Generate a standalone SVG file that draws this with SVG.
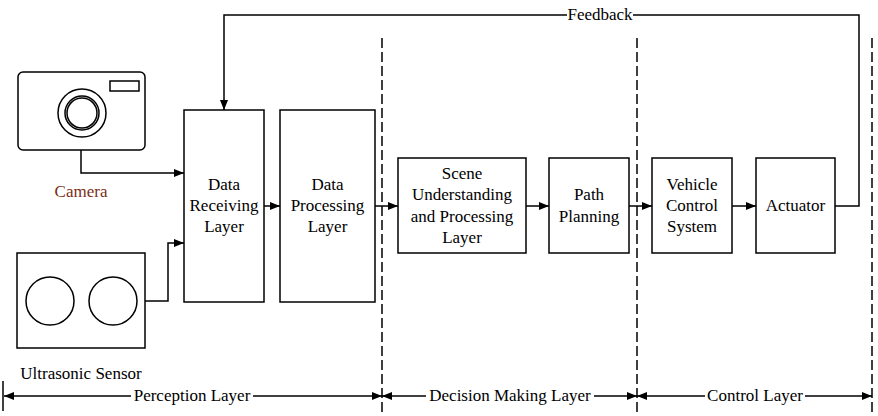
<svg xmlns="http://www.w3.org/2000/svg" width="878" height="416" viewBox="0 0 878 416" font-family="Liberation Serif, Times New Roman, serif">
<style>
.b{fill:#fff;stroke:#000;stroke-width:1.5}
.n{fill:none;stroke:#000;stroke-width:1.5}
.c{fill:none;stroke:#000;stroke-width:1.5}
.d{fill:none;stroke:#000;stroke-width:1.5;stroke-dasharray:10,4}
text{font-size:17px;fill:#000;text-anchor:middle}
</style>
<defs>
<marker id="a" markerWidth="10" markerHeight="8" refX="10" refY="4" orient="auto" markerUnits="userSpaceOnUse">
<path d="M0,0 L10,4 L0,8 Z" fill="#000"/>
</marker>
<marker id="s" markerWidth="10" markerHeight="8" refX="0" refY="4" orient="auto" markerUnits="userSpaceOnUse">
<path d="M10,0 L0,4 L10,8 Z" fill="#000"/>
</marker>
</defs>
<rect width="878" height="416" fill="#fff"/>
<g id="dividers">
<line class="d" x1="382" y1="38" x2="382" y2="414"/>
<line class="d" x1="637" y1="38" x2="637" y2="414"/>
<line class="d" x1="872" y1="38" x2="872" y2="414"/>
<line class="n" x1="3" y1="381" x2="3" y2="411"/>
</g>
<g id="camera">
<rect class="n" x="18" y="72" width="127" height="78" rx="5"/>
<rect class="n" x="110" y="81" width="29" height="10"/>
<circle class="n" cx="82" cy="113" r="24"/>
<circle class="n" cx="82" cy="113" r="17"/>
<circle class="n" cx="82" cy="113" r="15"/>
<text x="81" y="197" style="fill:#7b2e16">Camera</text>
</g>
<g id="ultrasonic">
<rect class="n" x="17" y="253" width="128" height="95"/>
<circle class="n" cx="50" cy="301" r="24"/>
<circle class="n" cx="113" cy="301" r="24"/>
<text x="81" y="379">Ultrasonic Sensor</text>
</g>
<g id="data-receiving">
<rect class="b" x="184" y="110" width="80" height="192"/>
<text x="224" y="190">Data</text>
<text x="224" y="211">Receiving</text>
<text x="224" y="232">Layer</text>
</g>
<g id="data-processing">
<rect class="b" x="280" y="110" width="95" height="192"/>
<text x="327.5" y="190">Data</text>
<text x="327.5" y="211">Processing</text>
<text x="327.5" y="232">Layer</text>
</g>
<g id="scene">
<rect class="b" x="398" y="158" width="128" height="95"/>
<text x="462" y="179">Scene</text>
<text x="462" y="200">Understanding</text>
<text x="462" y="222">and Processing</text>
<text x="462" y="243">Layer</text>
</g>
<g id="path-planning">
<rect class="b" x="549" y="158" width="80" height="95"/>
<text x="589" y="200">Path</text>
<text x="589" y="222">Planning</text>
</g>
<g id="vehicle-control">
<rect class="b" x="652" y="158" width="80" height="95"/>
<text x="692" y="190">Vehicle</text>
<text x="692" y="211">Control</text>
<text x="692" y="232">System</text>
</g>
<g id="actuator">
<rect class="b" x="756" y="158" width="79" height="95"/>
<text x="795.5" y="211">Actuator</text>
</g>
<g id="connectors">
<polyline class="c" points="81,150 81,173 184,173" marker-end="url(#a)"/>
<polyline class="c" points="145,301 168,301 168,243 184,243" marker-end="url(#a)"/>
<line class="c" x1="264" y1="206" x2="280" y2="206" marker-end="url(#a)"/>
<line class="c" x1="375" y1="206" x2="398" y2="206" marker-end="url(#a)"/>
<line class="c" x1="526" y1="206" x2="549" y2="206" marker-end="url(#a)"/>
<line class="c" x1="629" y1="206" x2="652" y2="206" marker-end="url(#a)"/>
<line class="c" x1="732" y1="206" x2="756" y2="206" marker-end="url(#a)"/>
<polyline class="c" points="835,206 859,206 859,15 224,15 224,110" marker-end="url(#a)"/>
<rect x="567" y="6" width="66" height="18" fill="#fff"/>
<text x="600" y="20">Feedback</text>
<line class="c" x1="4" y1="396" x2="382" y2="396" marker-start="url(#s)" marker-end="url(#a)"/>
<line class="c" x1="382" y1="396" x2="637" y2="396" marker-start="url(#s)" marker-end="url(#a)"/>
<line class="c" x1="637" y1="396" x2="872" y2="396" marker-start="url(#s)" marker-end="url(#a)"/>
<rect x="131" y="386" width="122" height="18" fill="#fff"/>
<text x="192" y="401">Perception Layer</text>
<rect x="426" y="386" width="168" height="18" fill="#fff"/>
<text x="510" y="401">Decision Making Layer</text>
<rect x="705" y="386" width="100" height="18" fill="#fff"/>
<text x="755" y="401">Control Layer</text>
</g>
</svg>
